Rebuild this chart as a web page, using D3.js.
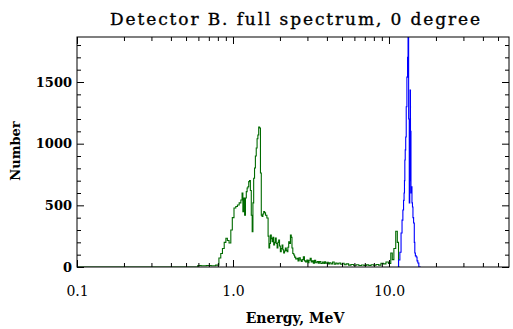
<!DOCTYPE html>
<html><head><meta charset="utf-8">
<script src="https://cdn.jsdelivr.net/npm/d3@7"></script>
<style>
html,body{margin:0;padding:0;background:#fff;}
svg{display:block;}
</style></head>
<body>
<script>
// ---- data ----
const title = "Detector B. full spectrum, 0 degree";
const xTitle = "Energy, MeV";
const yTitle = "Number";
const xTickValues = [0.1, 1, 10];
const xTickLabels = ["0.1", "1.0", "10.0"];
const yTickValues = [0, 500, 1000, 1500];
const yTickLabels = ["0", "500", "1000", "1500"];

const greenEnergy = [0.1,0.2,0.4,0.59,0.6,0.65,0.7,0.75,0.8,0.825,0.845,0.867,0.89,0.911,0.93,0.957,0.98,1.0,1.03,1.055,1.081,1.11,1.137,1.15,1.164,1.18,1.194,1.21,1.224,1.24,1.253,1.27,1.285,1.3,1.32,1.335,1.349,1.365,1.384,1.4,1.419,1.435,1.453,1.47,1.49,1.51,1.527,1.545,1.564,1.585,1.604,1.63,1.668,1.69,1.71,1.726,1.75,1.771,1.79,1.813,1.835,1.859,1.88,1.906,1.93,1.951,1.975,2.0,2.025,2.052,2.075,2.1,2.125,2.154,2.18,2.209,2.235,2.262,2.29,2.319,2.35,2.377,2.4,2.436,2.47,2.497,2.55,2.6,2.622,2.68,2.72,2.756,2.8,2.85,2.894,2.95,3.0,3.04,3.1,3.15,3.196,3.25,3.3,3.355,3.42,3.5,3.55,3.61,3.7,3.78,3.85,3.89,3.95,4.05,4.12,4.19,4.3,4.4,4.51,4.6,4.7,4.85,4.95,5.1,5.22,5.4,5.62,5.8,6.05,6.3,6.52,6.8,7.02,7.3,7.55,7.8,8.13,8.4,8.76,9.0,9.43,9.7,10.14,10.4,10.6,10.9,11.2,11.42,11.6,11.77,11.94,12.11];
const greenCounts = [0,0,0,0,12,10,12,10,15,73,110,150,200,233,215,195,300,400,478,490,503,520,543,600,449,560,421,560,611,640,651,692,700,620,420,286,520,720,803,900,965,1040,1070,1135,1127,762,421,410,430,449,440,420,397,250,154,190,260,230,205,240,178,200,235,190,154,200,219,170,124,150,178,140,113,130,154,135,124,160,205,190,260,240,154,110,97,80,65,70,50,75,57,45,60,83,50,40,57,35,55,70,40,50,30,55,35,45,30,45,28,40,28,42,30,38,25,35,25,40,22,32,25,33,22,30,18,25,15,20,14,18,12,16,13,17,12,18,14,20,15,30,25,40,28,113,60,150,290,200,0];

const blueEnergy = [11.4,11.64,11.85,12.05,12.2,12.35,12.45,12.54,12.6,12.67,12.75,12.85,12.95,13.1,13.2,13.3,13.43,13.55,13.63,13.7,13.77,13.9,13.98,14.1,14.19,14.3,14.46,14.6,14.68,14.85,15.06,15.2,15.42,15.65,16];
const blueCounts = [0,57,120,276,380,462,540,600,700,868,950,1054,1300,1540,1700,2100,1200,519,700,1435,1100,600,650,520,487,400,357,200,113,90,81,50,32,0,0];

// ---- layout ----
const W = 513, H = 329;
const mLeft = 77, mRight = 509, mTop = 37, mBottom = 267;

const svg = d3.select("body").append("svg").attr("width", W).attr("height", H);

const x = d3.scaleLog().domain([0.1, 58.8]).range([mLeft, mRight]);
const y = d3.scaleLinear().domain([0, 1865]).range([mBottom, mTop]);

const minorX = [];
[0.1, 1, 10].forEach(d => { for (let k = 2; k <= 9; k++) { const v = d * k; if (v < 58.8) minorX.push(v); } });
const minorY = d3.range(0, 1900, 100).filter(v => v % 500 !== 0 && v <= 1865);

const fontSerif = "'DejaVu Serif', serif";

svg.append("clipPath").attr("id", "clip").append("rect")
  .attr("x", mLeft).attr("y", mTop).attr("width", mRight - mLeft).attr("height", mBottom - mTop);

const line = d3.line().x(d => x(d[0])).y(d => y(d[1])).curve(d3.curveStep);

const gData = svg.append("g").attr("clip-path", "url(#clip)");
gData.append("path").datum(greenEnergy.map((e, i) => [e, greenCounts[i]]))
  .attr("d", line).attr("fill", "none").attr("stroke", "#006a00").attr("stroke-width", 1.1);
gData.append("path").datum(blueEnergy.map((e, i) => [e, blueCounts[i]]))
  .attr("d", line).attr("fill", "none").attr("stroke", "#0000ff").attr("stroke-width", 1.1);

function styleAxis(g) {
  g.select(".domain").remove();
  g.selectAll(".tick line").attr("stroke", "#000");
}
svg.append("g").attr("transform", `translate(0,${mBottom})`)
  .call(d3.axisBottom(x).tickValues(xTickValues).tickFormat((d, i) => xTickLabels[i]).tickSize(-7).tickPadding(19))
  .call(styleAxis)
  .call(g => g.selectAll("text").attr("font-family", fontSerif).attr("font-size", 14).attr("fill", "#000"));
svg.append("g").attr("transform", `translate(0,${mBottom})`)
  .call(d3.axisBottom(x).tickValues(minorX).tickFormat("").tickSize(-4)).call(styleAxis);
svg.append("g").attr("transform", `translate(0,${mTop})`)
  .call(d3.axisTop(x).tickValues(xTickValues).tickFormat("").tickSize(-7)).call(styleAxis);
svg.append("g").attr("transform", `translate(0,${mTop})`)
  .call(d3.axisTop(x).tickValues(minorX).tickFormat("").tickSize(-4)).call(styleAxis);
svg.append("g").attr("transform", `translate(${mLeft},0)`)
  .call(d3.axisLeft(y).tickValues(yTickValues).tickFormat((d, i) => yTickLabels[i]).tickSize(-7).tickPadding(5))
  .call(styleAxis)
  .call(g => g.selectAll("text").attr("font-family", fontSerif).attr("font-weight", "bold").attr("font-size", 13).attr("fill", "#000"));
svg.append("g").attr("transform", `translate(${mLeft},0)`)
  .call(d3.axisLeft(y).tickValues(minorY).tickFormat("").tickSize(-4)).call(styleAxis);
svg.append("g").attr("transform", `translate(${mRight},0)`)
  .call(d3.axisRight(y).tickValues(yTickValues).tickFormat("").tickSize(-7)).call(styleAxis);
svg.append("g").attr("transform", `translate(${mRight},0)`)
  .call(d3.axisRight(y).tickValues(minorY).tickFormat("").tickSize(-4)).call(styleAxis);

svg.append("rect").attr("x", mLeft).attr("y", mTop).attr("width", mRight - mLeft).attr("height", mBottom - mTop)
  .attr("fill", "none").attr("stroke", "#000").attr("stroke-width", 1);

svg.append("text").attr("x", 295).attr("y", 25).attr("text-anchor", "middle")
  .attr("font-family", fontSerif).attr("font-size", 17).attr("fill", "#000")
  .attr("stroke", "#000").attr("stroke-width", 0.35)
  .attr("textLength", 370).attr("lengthAdjust", "spacing").text(title);
svg.append("text").attr("x", 295).attr("y", 323).attr("text-anchor", "middle")
  .attr("font-family", fontSerif).attr("font-weight", "bold").attr("font-size", 14).attr("fill", "#000").text(xTitle);
svg.append("text").attr("transform", `translate(20,151) rotate(-90)`).attr("text-anchor", "middle")
  .attr("font-family", fontSerif).attr("font-weight", "bold").attr("font-size", 13).attr("fill", "#000").text(yTitle);
</script>
</body></html>
